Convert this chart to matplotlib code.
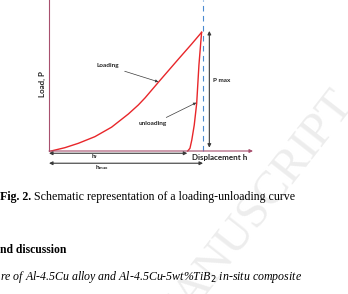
import matplotlib
matplotlib.use("Agg")
import matplotlib.pyplot as plt

# schematic curve, displacement / load in relative units
load_h = [0.01, 0.078, 0.144, 0.225, 0.307, 0.389, 0.438, 0.471, 0.536,
          0.634, 0.699, 0.748]
load_p = [0.0, 0.022, 0.051, 0.095, 0.158, 0.245, 0.305, 0.352, 0.455,
          0.608, 0.708, 0.786]
unload_h = [0.748, 0.735, 0.724, 0.712, 0.700, 0.691, 0.680]
unload_p = [0.786, 0.570, 0.316, 0.172, 0.073, 0.018, 0.0]

h_max = 0.755
h_f = 0.678
p_max = 0.785

caption_bold = "Fig. 2."
caption_text = " Schematic representation of a loading-unloading curve"
section_text = "nd discussion"
sub_text = r"re of Al-4.5Cu alloy and Al-4.5Cu-5wt%TiB$_2$ in-situ composite"
watermark = "MANUSCRIPT"

W, H = 348, 294
fig = plt.figure(figsize=(W / 100, H / 100), dpi=100)
fig.patch.set_facecolor("white")

# page watermark
fig.text(252 / W, 1 - 216 / H, watermark, rotation=52, fontsize=34,
         family="Liberation Serif", color="#ededed", ha="center", va="center",
         zorder=0)

ax = fig.add_axes([49 / W, 1 - 151 / H, (253 - 49) / W, 151 / H])
ax.set_xlim(0, 1)
ax.set_ylim(0, 1)
ax.axis("off")
ax.patch.set_alpha(0)

axis_col = "#a8506e"
dark = "#3a3a3a"
lab = dict(family="Lato", fontweight="bold", fontsize=4.6, color="#222222")

ax.plot([0, 0], [0, 1], color=axis_col, lw=0.8, clip_on=False)
ax.annotate("", xy=(1.0, 0), xytext=(0, 0),
            arrowprops=dict(arrowstyle="-|>", color=axis_col, lw=0.8,
                            mutation_scale=5, shrinkA=0, shrinkB=0),
            annotation_clip=False)

ax.plot([h_max, h_max], [0, 1], color="#4a8ad0", lw=0.8, ls=(0, (5, 4)),
        clip_on=False)

ax.plot(load_h, load_p, color="#e8262a", lw=1.0, clip_on=False,
        solid_joinstyle="round")
ax.plot(unload_h, unload_p, color="#e8262a", lw=1.0, clip_on=False,
        solid_joinstyle="round")

# P max
ax.annotate("", xy=(0.786, p_max + 0.01), xytext=(0.786, 0.022),
            arrowprops=dict(arrowstyle="<|-|>", color=dark, lw=0.8,
                            mutation_scale=5, shrinkA=0, shrinkB=0))
ax.text(0.803, 0.47, "P max", ha="left", va="center", **lab)

# Loading / unloading callouts
ax.annotate("Loading", xy=(0.536, 0.458), xytext=(0.289, 0.563),
            ha="center", va="center", **lab,
            arrowprops=dict(arrowstyle="-|>", color=dark, lw=0.5,
                            mutation_scale=4, shrinkA=2, shrinkB=0))
ax.annotate("unloading", xy=(0.722, 0.32), xytext=(0.51, 0.179),
            ha="center", va="center", **lab,
            arrowprops=dict(arrowstyle="-|>", color=dark, lw=0.5,
                            mutation_scale=4, shrinkA=2, shrinkB=0))

# h_f and h_max
ax.annotate("", xy=(0, -0.015), xytext=(h_f, -0.015),
            arrowprops=dict(arrowstyle="<|-|>", color=dark, lw=0.8,
                            mutation_scale=5, shrinkA=0, shrinkB=0),
            annotation_clip=False)
ax.text(0.225, -0.04, r"h$_\mathregular{f}$", ha="center", va="center", **lab)
ax.annotate("", xy=(0, -0.081), xytext=(h_max, -0.081),
            arrowprops=dict(arrowstyle="<|-|>", color=dark, lw=0.8,
                            mutation_scale=5, shrinkA=0, shrinkB=0),
            annotation_clip=False)
ax.text(0.258, -0.112, r"h$_\mathregular{max}$", ha="center", va="center", **lab)

ax.text(0.70, -0.042, "Displacement h", ha="left", va="center",
        family="Lato", fontweight="bold", fontsize=5.8, color="#222222")
ax.text(-0.034, 0.44, "Load, P", rotation=90, ha="center", va="center",
        family="Lato", fontweight="bold", fontsize=5.8, color="#222222")

# page text below the figure
serif = "Liberation Serif"
t = fig.text(0.0, 1 - 197 / H, caption_bold, family=serif, fontweight="bold",
             fontsize=8.6, va="center", ha="left")
fig.canvas.draw()
bb = t.get_window_extent()
fig.text(bb.x1 / W, 1 - 197 / H, caption_text, family=serif, fontsize=8.6,
         va="center", ha="left")
fig.text(0.0, 1 - 250 / H, section_text, family=serif, fontweight="bold",
         fontsize=8.4, va="center", ha="left")
fig.text(0.0, 1 - 277 / H, sub_text, family=serif, style="italic",
         fontsize=8.6, va="center", ha="left")

fig.savefig("out.png", dpi=100, facecolor="white")
